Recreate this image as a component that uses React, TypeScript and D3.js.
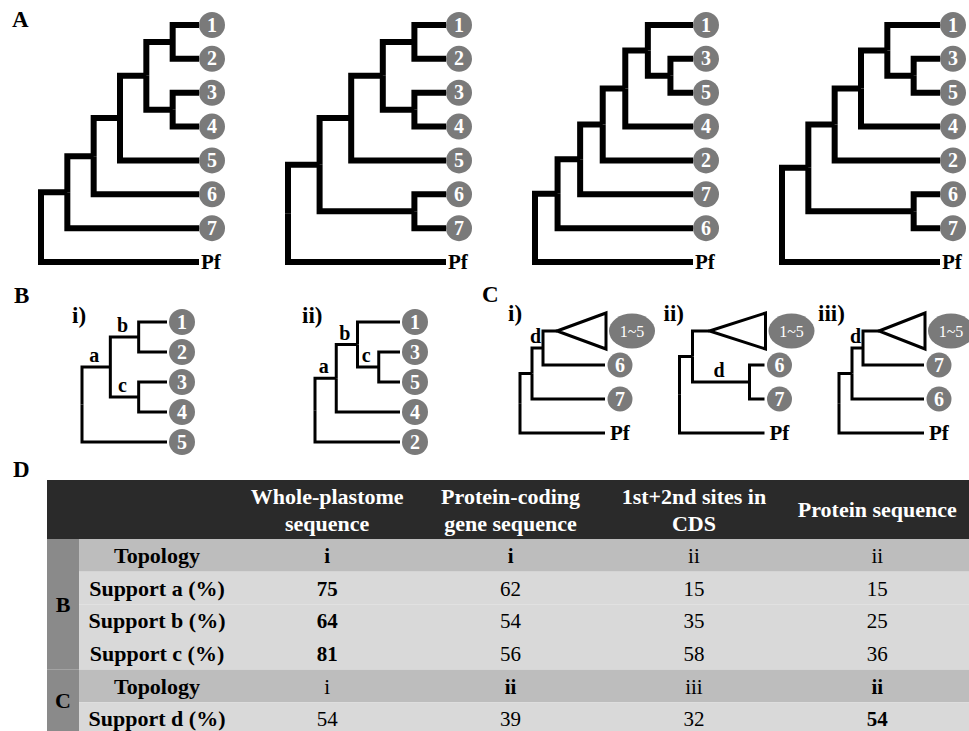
import React from "react";
import * as d3 from "d3";

const FONT = "'Liberation Serif', 'Times New Roman', serif";
const GREY = "#7a7a7a";

// A: four alternative topologies (Pf = outgroup)
const treesA = [
  "((((((1,2),(3,4)),5),6),7),Pf)",
  "(((((1,2),(3,4)),5),(6,7)),Pf)",
  "((((((1,(3,5)),4),2),7),6),Pf)",
  "(((((1,(3,5)),4),2),(6,7)),Pf)",
];

// B: internal labels mark supported branches
const treesB = ["(((1,2)b,(3,4)c)a,5)", "(((1,(3,5)c)b,4)a,2)"];
const titlesB = ["i)", "ii)"];

// C: internal branch lengths, leaves run to the tip line
const treesC = [
  "(((1~5:14,6)d:11,7):12,Pf)",
  "((1~5:17,(6,7)d:57):13,Pf)",
  "(((1~5:16,7)d:11,6):13,Pf)",
];
const titlesC = ["i)", "ii)", "iii)"];

// D: table
const columns = [
  ["Whole-plastome", "sequence"],
  ["Protein-coding", "gene sequence"],
  ["1st+2nd sites in", "CDS"],
  ["Protein sequence"],
];
const rowLabels = ["Topology", "Support a (%)", "Support b (%)", "Support c (%)", "Topology", "Support d (%)"];
const rowGroups = ["B", "B", "B", "B", "C", "C"];
const topologyB = ["i", "i", "ii", "ii"];
const supportA = [75, 62, 15, 15];
const supportB = [64, 54, 35, 25];
const supportC = [81, 56, 58, 36];
const topologyC = ["i", "ii", "iii", "ii"];
const supportD = [54, 39, 32, 54];
const boldCells = ["0-0", "0-1", "1-0", "2-0", "3-0", "4-1", "4-3", "5-3"];

type NNode = { name: string; len?: number; children?: NNode[] };

function parseNewick(s: string): NNode {
  let i = 0;
  function node(): NNode {
    const n: NNode = { name: "" };
    if (s[i] === "(") {
      i++;
      n.children = [node()];
      while (s[i] === ",") {
        i++;
        n.children.push(node());
      }
      i++;
    }
    let name = "";
    while (i < s.length && !",():".includes(s[i])) name += s[i++];
    n.name = name;
    if (s[i] === ":") {
      i++;
      let num = "";
      while (i < s.length && !",()".includes(s[i])) num += s[i++];
      n.len = +num;
    }
    return n;
  }
  return node();
}

function layoutTree(newick: string, x0: number, width: number, y0: number, y1: number, phylo: boolean) {
  const root: any = d3.hierarchy(parseNewick(newick));
  d3.cluster().size([1, 1]).separation(() => 1)(root);
  const n = root.leaves().length;
  const yS = d3.scaleLinear().domain([0.5 / n, 1 - 0.5 / n]).range([y0, y1]);
  const xS = d3.scaleLinear().domain([0, 1]).range([x0, x0 + width]);
  const lenS = d3.scaleLinear().domain([0, width]).range([x0, x0 + width]);
  root.eachBefore((d: any) => {
    d.py = yS(d.x);
    if (!phylo) {
      d.px = xS(d.y);
    } else {
      d.cum = d.parent ? d.parent.cum + (d.data.len ?? 0) : 0;
      d.px = !d.children && d.data.len === undefined ? x0 + width : lenS(d.cum);
    }
  });
  return root;
}

function Tree({ newick, x0, width, y0, y1, phylo = false, stroke, r, numSize, leafGap }: any) {
  const root = layoutTree(newick, x0, width, y0, y1, phylo);
  const tip = x0 + width;
  return (
    <g>
      {root.links().map((l: any, i: number) => (
        <path
          key={i}
          d={`M${l.source.px},${l.source.py}V${l.target.py}H${l.target.px}`}
          fill="none"
          stroke="#000"
          strokeWidth={stroke}
        />
      ))}
      {root.descendants().filter((d: any) => d.children && d.parent && d.data.name).map((d: any, i: number) => (
        <text key={"l" + i} x={(d.parent.px + d.px) / 2 - 2} y={d.py - 5} textAnchor="middle"
          fontFamily={FONT} fontWeight="bold" fontSize={20}>{d.data.name}</text>
      ))}
      {root.leaves().map((d: any, i: number) => {
        const name = d.data.name;
        if (name === "Pf") {
          return (
            <text key={"f" + i} x={tip + (phylo ? 5 : 2)} y={d.py + 7} fontFamily={FONT}
              fontWeight="bold" fontSize={21}>Pf</text>
          );
        }
        if (name.includes("~")) {
          return (
            <g key={"c" + i}>
              <path d={`M${d.px},${d.py}L${tip + 1},${d.py - 18}V${d.py + 18}Z`} fill="#fff"
                stroke="#000" strokeWidth={stroke} strokeLinejoin="miter" />
              <ellipse cx={tip + 27} cy={d.py} rx={23} ry={17.5} fill={GREY} />
              <text x={tip + 27} y={d.py + 5.5} textAnchor="middle" fill="#fff" fontFamily={FONT}
                fontSize={16}>{name}</text>
            </g>
          );
        }
        return (
          <g key={"n" + i}>
            <circle cx={tip + leafGap} cy={d.py} r={r} fill={GREY} />
            <text x={tip + leafGap} y={d.py + 6.5} textAnchor="middle" fill="#fff" fontFamily={FONT}
              fontWeight="bold" fontSize={numSize}>{name}</text>
          </g>
        );
      })}
    </g>
  );
}

function PanelLabel({ x, y, t }: any) {
  return <text x={x} y={y} fontFamily={FONT} fontWeight="bold" fontSize={23}>{t}</text>;
}

function Table() {
  const left = 47, strip = 79, right = 969, top = 480, headBottom = 539;
  const colX = d3.scaleBand<number>().domain(d3.range(columns.length)).range([235.5, right]);
  const rowY = d3.scaleBand<number>().domain(d3.range(rowLabels.length)).range([headBottom, 735]);
  const values: (string | number)[][] = [topologyB, supportA, supportB, supportC, topologyC, supportD];
  const groups = Array.from(d3.group(d3.range(rowGroups.length), (i) => rowGroups[i]));
  const cx = (c: number) => colX(c)! + colX.bandwidth() / 2;
  return (
    <g fontFamily={FONT}>
      <rect x={left} y={top} width={right - left} height={headBottom - top} fill="#2a2a2a" />
      {columns.map((lines, c) => (
        <text key={c} textAnchor="middle" fill="#fff" fontWeight="bold" fontSize={22}>
          {lines.map((t, k) => (
            <tspan key={k} x={cx(c)} y={lines.length === 1 ? 517 : 504 + k * 27}>{t}</tspan>
          ))}
        </text>
      ))}
      {rowLabels.map((lab, r) => (
        <g key={r}>
          <rect x={strip} y={rowY(r)} width={right - strip} height={rowY.bandwidth()}
            fill={lab === "Topology" ? "#bdbdbd" : "#d9d9d9"} />
          <text x={157} y={rowY(r)! + rowY.bandwidth() / 2 + 7.5} textAnchor="middle"
            fontWeight="bold" fontSize={22}>{lab}</text>
          {values[r].map((v, c) => (
            <text key={c} x={cx(c)} y={rowY(r)! + rowY.bandwidth() / 2 + 7.5} textAnchor="middle"
              fontWeight={boldCells.includes(`${r}-${c}`) ? "bold" : "normal"} fontSize={21}>{v}</text>
          ))}
        </g>
      ))}
      {groups.map(([g, rows]) => {
        const y0 = rowY(rows[0])!;
        const y1 = rowY(rows[rows.length - 1])! + rowY.bandwidth();
        return (
          <g key={g}>
            <rect x={left} y={y0} width={strip - left} height={y1 - y0} fill="#8a8a8a" />
            <text x={(left + strip) / 2} y={(y0 + Math.min(y1, 731)) / 2 + 8} textAnchor="middle"
              fontWeight="bold" fontSize={22}>{g}</text>
          </g>
        );
      })}
    </g>
  );
}

export default function App() {
  const ax = d3.scalePoint<number>().domain(d3.range(treesA.length)).range([41, 782]);
  const bx = d3.scalePoint<number>().domain(d3.range(treesB.length)).range([82, 315]);
  const cxs = d3.scalePoint<number>().domain(d3.range(treesC.length)).range([520, 839]);
  return (
    <svg width={969} height={731} style={{ position: "absolute", left: 0, top: 0, background: "#fff" }}>
      <PanelLabel x={12} y={27} t="A" />
      {treesA.map((t, i) => (
        <Tree key={i} newick={t} x0={ax(i)} width={158} y0={25} y1={262} stroke={6} r={13}
          numSize={20} leafGap={13} />
      ))}

      <PanelLabel x={14} y={303} t="B" />
      {treesB.map((t, i) => (
        <g key={i}>
          <text x={bx(i)! - 10 - (i === 1 ? 3 : 0)} y={323} fontFamily={FONT} fontWeight="bold" fontSize={23}>{titlesB[i]}</text>
          <Tree newick={t} x0={bx(i)} width={85} y0={322} y1={442} stroke={3} r={13}
            numSize={20} leafGap={15} />
        </g>
      ))}

      <PanelLabel x={482} y={302} t="C" />
      {treesC.map((t, i) => (
        <g key={i}>
          <text x={cxs(i)! - 12 - (i === 1 ? 4 : 0) - (i === 2 ? 9 : 0)} y={321} fontFamily={FONT} fontWeight="bold" fontSize={23}>{titlesC[i]}</text>
          <Tree newick={t} x0={cxs(i)} width={85} y0={331} y1={433} phylo stroke={3} r={12.5}
            numSize={20} leafGap={15} />
        </g>
      ))}

      <PanelLabel x={13} y={477} t="D" />
      <Table />
    </svg>
  );
}
